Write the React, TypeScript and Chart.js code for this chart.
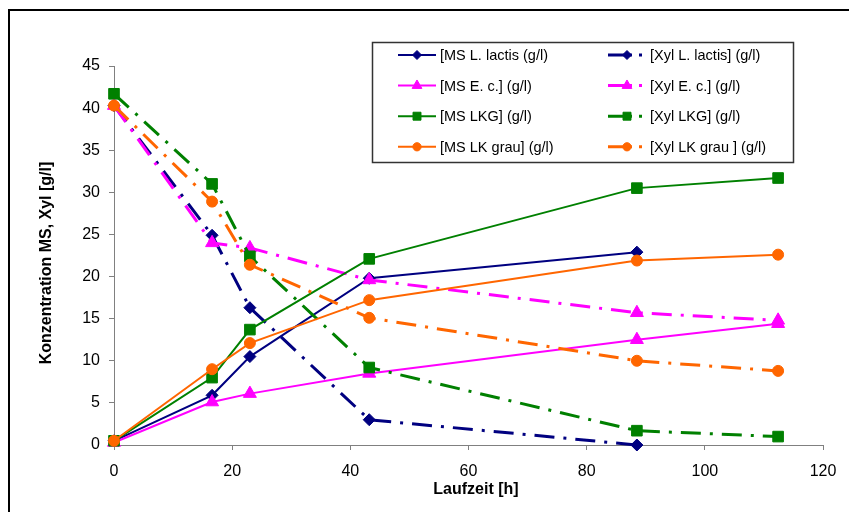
import React, { useEffect, useRef } from 'react';
import { Chart, registerables } from 'chart.js';

Chart.register(...registerables);

// ---- data ----
const timeH = [0, 16.6, 23, 43.2, 88.5, 112.4];
const msLactis = [0.5, 5.9, 10.5, 19.8, 22.9];
const xylLactis = [40.3, 24.9, 16.3, 3.0, 0.0];
const msEc = [0.3, 5.1, 6.1, 8.5, 12.5, 14.4];
const xylEc = [40.3, 24.0, 23.4, 19.6, 15.7, 14.8];
const msLKG = [0.5, 8.0, 13.7, 22.1, 30.5, 31.7];
const xylLKG = [41.7, 31.0, 22.4, 9.2, 1.7, 1.0];
const msLKgrau = [0.5, 9.0, 12.1, 17.2, 21.9, 22.6];
const xylLKgrau = [40.3, 28.9, 21.4, 15.1, 10.0, 8.8];

const seriesLabels = [
  '[MS L. lactis (g/l)',
  '[Xyl L. lactis] (g/l)',
  '[MS E. c.] (g/l)',
  '[Xyl E. c.] (g/l)',
  '[MS LKG] (g/l)',
  '[Xyl LKG] (g/l)',
  '[MS LK grau] (g/l)',
  '[Xyl LK grau ] (g/l)',
];
const seriesValues = [msLactis, xylLactis, msEc, xylEc, msLKG, xylLKG, msLKgrau, xylLKgrau];
const xTitle = 'Laufzeit [h]';
const yTitle = 'Konzentration MS, Xyl [g/l]';

// ---- styles ----
const NAVY = '#000080';
const MAGENTA = '#FF00FF';
const GREEN = '#008000';
const ORANGE = '#FF6600';
const seriesColors = [NAVY, NAVY, MAGENTA, MAGENTA, GREEN, GREEN, ORANGE, ORANGE];
const seriesMarkers = ['rectRot', 'rectRot', 'triangle', 'triangle', 'rect', 'rect', 'circle', 'circle'];
const markerRadius: Record<string, number> = { rectRot: 6, triangle: 7.5, rect: 7.5, circle: 5.5 };
const DASHDOT = [20, 9, 3, 9];
const FONT = '"Liberation Sans", Arial, sans-serif';

function drawMarker(ctx: CanvasRenderingContext2D, style: string, x: number, y: number, r: number, color: string) {
  ctx.save();
  ctx.setLineDash([]);
  ctx.fillStyle = color;
  ctx.strokeStyle = color;
  ctx.lineWidth = 1;
  ctx.beginPath();
  if (style === 'circle') {
    ctx.arc(x, y, r, 0, Math.PI * 2);
  } else if (style === 'rect') {
    const s = r * Math.SQRT1_2;
    ctx.rect(x - s, y - s, 2 * s, 2 * s);
  } else if (style === 'rectRot') {
    ctx.moveTo(x - r, y);
    ctx.lineTo(x, y - r);
    ctx.lineTo(x + r, y);
    ctx.lineTo(x, y + r);
    ctx.closePath();
  } else if (style === 'triangle') {
    ctx.moveTo(x, y - r);
    ctx.lineTo(x + r * Math.sin((2 * Math.PI) / 3), y + r / 2);
    ctx.lineTo(x - r * Math.sin((2 * Math.PI) / 3), y + r / 2);
    ctx.closePath();
  }
  ctx.fill();
  ctx.stroke();
  ctx.restore();
}

const decorPlugin = {
  id: 'decor',
  beforeDraw(chart: any) {
    const ctx = chart.ctx as CanvasRenderingContext2D;
    ctx.save();
    ctx.fillStyle = '#ffffff';
    ctx.fillRect(0, 0, chart.width, chart.height);
    ctx.restore();
  },
  afterDraw(chart: any) {
    const ctx = chart.ctx as CanvasRenderingContext2D;
    ctx.save();
    // outer frame (top and left edges)
    ctx.fillStyle = '#000000';
    ctx.fillRect(0, 1, chart.width, 2);
    ctx.fillRect(0, 1, 2, chart.height);

    // axis titles
    ctx.fillStyle = '#000000';
    ctx.font = `bold 16px ${FONT}`;
    ctx.textAlign = 'center';
    ctx.textBaseline = 'middle';
    ctx.fillText(xTitle, 468, 482);
    ctx.save();
    ctx.translate(39, 255);
    ctx.rotate(-Math.PI / 2);
    ctx.fillText(yTitle, 0, 0);
    ctx.restore();

    // legend box
    const bx = 364, by = 34, bw = 421, bh = 120;
    ctx.fillStyle = '#ffffff';
    ctx.fillRect(bx, by, bw, bh);
    ctx.strokeStyle = '#333333';
    ctx.lineWidth = 1.5;
    ctx.strokeRect(bx + 0.5, by + 0.5, bw, bh);

    ctx.font = `14.5px ${FONT}`;
    ctx.textAlign = 'left';
    ctx.textBaseline = 'middle';
    for (let i = 0; i < seriesLabels.length; i++) {
      const row = Math.floor(i / 2);
      const col = i % 2;
      const cy = 47 + row * 30.6;
      const x0 = col === 0 ? 390 : 600;
      const x1 = x0 + 38;
      const color = seriesColors[i];
      ctx.save();
      ctx.strokeStyle = color;
      ctx.lineCap = 'butt';
      if (col === 0) {
        ctx.lineWidth = 2;
        ctx.setLineDash([]);
      } else {
        ctx.lineWidth = 3;
        ctx.setLineDash([24, 7, 3, 7]);
      }
      ctx.beginPath();
      ctx.moveTo(x0, cy);
      ctx.lineTo(x1, cy);
      ctx.stroke();
      ctx.restore();
      drawMarker(ctx, seriesMarkers[i], (x0 + x1) / 2, cy, markerRadius[seriesMarkers[i]] * 0.75, color);
      ctx.fillStyle = '#000000';
      ctx.fillText(seriesLabels[i], x1 + 4, cy + 1);
    }
    ctx.restore();
  },
};

export default function App() {
  const canvasRef = useRef<HTMLCanvasElement | null>(null);

  useEffect(() => {
    const canvas = canvasRef.current;
    if (!canvas) return;
    const datasets = seriesValues.map((vals, i) => {
      const isXyl = i % 2 === 1;
      const style = seriesMarkers[i];
      return {
        label: seriesLabels[i],
        data: vals.map((v, k) => ({ x: timeH[k], y: v })),
        borderColor: seriesColors[i],
        backgroundColor: seriesColors[i],
        borderWidth: isXyl ? 3 : 2,
        borderDash: isXyl ? DASHDOT : [],
        borderCapStyle: 'butt',
        pointStyle: style,
        pointRadius: markerRadius[style],
        pointBorderWidth: 1,
        pointBackgroundColor: seriesColors[i],
        pointBorderColor: seriesColors[i],
        tension: 0,
        fill: false,
        clip: false,
        order: 10 - i,
      };
    });

    const chart = new Chart(canvas, {
      type: 'line',
      data: { datasets: datasets as any },
      plugins: [decorPlugin],
      options: {
        responsive: false,
        maintainAspectRatio: false,
        animation: false,
        layout: { padding: { left: 0, top: 58, right: 34, bottom: 0 } },
        plugins: {
          legend: { display: false },
          tooltip: { enabled: false },
          title: { display: false },
        },
        scales: {
          x: {
            type: 'linear',
            min: 0,
            max: 120,
            afterFit: (scale: any) => {
              scale.height = 67;
            },
            ticks: {
              stepSize: 20,
              color: '#000000',
              padding: 12,
              font: { family: FONT, size: 16 },
              maxRotation: 0,
            },
            grid: {
              drawOnChartArea: false,
              drawTicks: true,
              tickLength: 5,
              color: '#808080',
            },
            border: { display: true, color: '#808080', width: 1 },
          },
          y: {
            type: 'linear',
            min: 0,
            max: 45,
            afterFit: (scale: any) => {
              scale.width = 106;
            },
            ticks: {
              stepSize: 5,
              color: '#000000',
              padding: 9,
              font: { family: FONT, size: 16 },
            },
            grid: {
              drawOnChartArea: false,
              drawTicks: true,
              tickLength: 5,
              color: '#808080',
            },
            border: { display: true, color: '#808080', width: 1 },
          },
        },
      },
    });
    return () => chart.destroy();
  }, []);

  return (
    <div style={{ width: 849, height: 504 }}>
      <canvas ref={canvasRef} width={849} height={504} style={{ display: 'block' }} />
    </div>
  );
}
